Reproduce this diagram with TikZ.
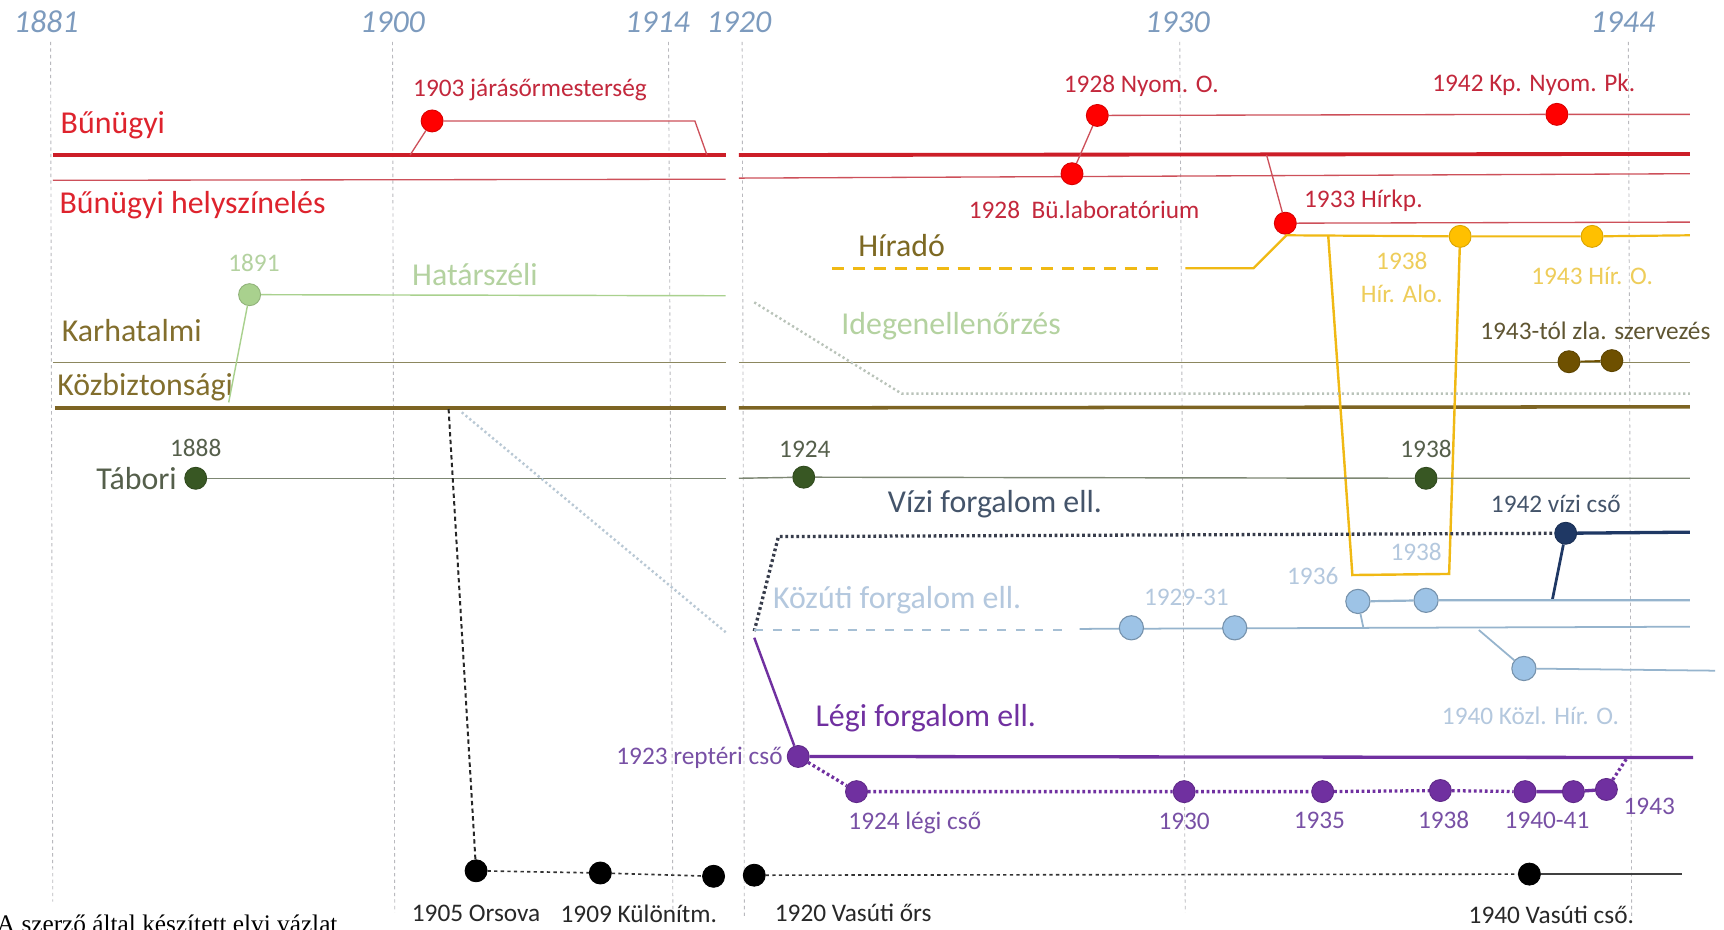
\documentclass[tikz,border=0pt]{standalone}
\usepackage{fontspec}
\setmainfont{Carlito}
\newfontfamily\capfont{Liberation Serif}
\definecolor{yearc}{RGB}{125,155,190}
\definecolor{gridc}{RGB}{185,185,190}
\definecolor{redthick}{RGB}{204,30,40}
\definecolor{redthin}{RGB}{205,80,90}
\definecolor{redtext}{RGB}{195,40,60}
\definecolor{redbig}{RGB}{222,35,45}
\definecolor{reddot}{RGB}{255,0,0}
\definecolor{goldline}{RGB}{240,185,20}
\definecolor{golddot}{RGB}{255,192,0}
\definecolor{goldtext}{RGB}{238,205,90}
\definecolor{hirtext}{RGB}{125,105,35}
\definecolor{lgline}{RGB}{169,209,142}
\definecolor{lgtext}{RGB}{180,210,160}
\definecolor{idegen}{RGB}{185,195,185}
\definecolor{oltext}{RGB}{130,110,45}
\definecolor{olthin}{RGB}{140,135,95}
\definecolor{olthick}{RGB}{125,100,35}
\definecolor{browndot}{RGB}{110,80,0}
\definecolor{zlatext}{RGB}{95,85,50}
\definecolor{dgdot}{RGB}{56,87,35}
\definecolor{dgline}{RGB}{125,135,115}
\definecolor{dgtext}{RGB}{85,95,75}
\definecolor{navy}{RGB}{31,56,100}
\definecolor{vizitext}{RGB}{68,84,106}
\definecolor{darkdot}{RGB}{55,60,75}
\definecolor{lbdot}{RGB}{157,195,230}
\definecolor{lbline}{RGB}{150,180,205}
\definecolor{lbtext}{RGB}{180,200,222}
\definecolor{lbdiag}{RGB}{185,200,212}
\definecolor{purp}{RGB}{112,48,160}
\definecolor{purptext}{RGB}{120,80,165}
\definecolor{blktext}{RGB}{40,40,40}
\tikzset{
  lab/.style={font=\fontsize{23}{25}\selectfont, inner sep=0pt},
  big/.style={font=\fontsize{29}{31}\selectfont, inner sep=0pt},
  yr/.style={font=\fontsize{29}{31}\selectfont\itshape, text=yearc, inner sep=0pt},
  ball/.style={circle, inner sep=0pt, minimum size=20pt, fill=#1, draw=#1!85!black, line width=0.8pt},
  lball/.style={circle, inner sep=0pt, minimum size=22pt, fill=lbdot, draw=lbdot!75!black, line width=1pt},
  vgrid/.style={draw=gridc, dash pattern=on 3pt off 3pt, line width=0.8pt},
  dotline/.style={dash pattern=on 2.5pt off 2.5pt, line width=3pt},
}
\begin{document}
\begin{tikzpicture}[x=1pt,y=-1pt]
\useasboundingbox (0,0) rectangle (1568,845);
\fill[white] (0,0) rectangle (1568,845);

% ---------- year labels and gridlines ----------
\node[yr] (y1881) at (42,20) {1881};
\node[yr] (y1900) at (357,20) {1900};
\node[yr] (y1914) at (598,20) {1914};
\node[yr] (y1920) at (672,20) {1920};
\node[yr] (y1930) at (1071,20) {1930};
\node[yr] (y1944) at (1476,20) {1944};
\coordinate (g1a) at (46,38);   \coordinate (g1b) at (48,820);
\coordinate (g2a) at (357,38);  \coordinate (g2b) at (359,830);
\coordinate (g3a) at (608,38);  \coordinate (g3b) at (612,830);
\coordinate (g4a) at (675,38);  \coordinate (g4b) at (677,835);
\coordinate (g5a) at (1073,38); \coordinate (g5b) at (1078,830);
\coordinate (g6a) at (1481,38); \coordinate (g6b) at (1484,835);
\foreach \i in {1,...,6} {\draw[vgrid] (g\i a) -- (g\i b);}

% ---------- lane lines ----------
\coordinate (rA) at (48,141);  \coordinate (rB) at (660,141);
\coordinate (rC) at (672,141); \coordinate (rD) at (1537,140);
\draw[redthick, line width=3.5pt] (rA) -- (rB);
\draw[redthick, line width=3.5pt] (rC) -- (rD);
\coordinate (hA) at (48,164);  \coordinate (hB) at (660,163);
\coordinate (hC) at (672,162); \coordinate (hD) at (1537,158);
\draw[redthin, line width=1.2pt] (hA) -- (hB);
\draw[redthin, line width=1.2pt] (hC) -- (hD);
\coordinate (kA) at (48,330);  \coordinate (kB) at (660,330);
\coordinate (kC) at (672,330); \coordinate (kD) at (1537,330);
\draw[olthin, line width=1.2pt] (kA) -- (kB);
\draw[olthin, line width=1.2pt] (kC) -- (kD);
\coordinate (zA) at (50,371);  \coordinate (zB) at (660,371);
\coordinate (zC) at (672,371); \coordinate (zD) at (1537,370);
\draw[olthick, line width=3.2pt] (zA) -- (zB);
\draw[olthick, line width=3.2pt] (zC) -- (zD);

% ---------- labels of lanes ----------
\node[big, text=redbig, anchor=west] (lbun) at (55,114) {Bűnügyi};
\node[big, text=redbig, anchor=west] (lhely) at (54,187) {Bűnügyi helyszínelés};
\node[big, text=oltext, anchor=west] (lkar) at (56,301) {Karhatalmi};
\node[big, text=oltext, anchor=west] (lkoz) at (52,352) {Közbiztonsági};
\node[big, text=dgtext, anchor=east] (ltab) at (161,435) {Tábori};
\node[big, text=hirtext] (lhir) at (820,223) {Híradó};
\node[big, text=lgtext] (lhat) at (432,250) {Határszéli};
\node[big, text=lgtext] (lide) at (865,297) {Idegenellenőrzés};
\node[big, text=vizitext] (lviz) at (905,459) {Vízi forgalom ell.};
\node[big, text=lbtext] (lkozu) at (816,546) {Közúti forgalom ell.};
\node[big, text=purp] (llegi) at (842,653) {Légi forgalom ell.};

% ---------- red events ----------
\node[ball=reddot] (n1903) at (393,110) {};
\coordinate (b03a) at (373,141); \coordinate (b03b) at (632,110); \coordinate (b03c) at (643,141);
\draw[redthin, line width=1.2pt] (b03a) -- (n1903) -- (b03b) -- (b03c);
\node[lab, text=redtext] (t1903) at (482,82) {1903 járásőrmesterség};

\node[ball=reddot] (n1928n) at (998,105) {};
\node[ball=reddot] (n1942) at (1416,104) {};
\coordinate (nyE) at (1537,104);
\draw[redthin, line width=1.2pt] (n1928n) -- (n1942) -- (nyE);
\node[ball=reddot] (n1928b) at (975,158) {};
\draw[redthin, line width=1.2pt] (n1928b) -- (n1928n);
\node[lab, text=redtext] (t1928n) at (1038,78) {1928 Nyom. O.};
\node[lab, text=redtext] (t1942) at (1395,77) {1942 Kp. Nyom. Pk.};
\node[lab, text=redtext] (t1928b) at (986,191) {1928\ \ Bü.laboratórium};

\node[ball=reddot] (n1933) at (1169,203) {};
\coordinate (r33) at (1152,141); \coordinate (hkE) at (1537,202);
\draw[redthin, line width=1.2pt] (r33) -- (n1933) -- (hkE);
\node[lab, text=redtext] (t1933) at (1240,183) {1933 Hírkp.};

% ---------- Híradó (gold) ----------
\coordinate (gd1) at (757,244); \coordinate (gd2) at (1060,244);
\draw[goldline, line width=3pt, dash pattern=on 11pt off 8pt] (gd1) -- (gd2);
\coordinate (gs1) at (1078,244); \coordinate (gs2) at (1140,244); \coordinate (gs3) at (1170,214);
\node[ball=golddot] (n1938h) at (1328,215) {};
\node[ball=golddot] (n1943h) at (1448,215) {};
\coordinate (gsE) at (1537,214);
\draw[goldline, line width=2pt] (gs1) -- (gs2) -- (gs3) -- (n1938h) -- (n1943h) -- (gsE);
\coordinate (tr1) at (1208,214); \coordinate (tr2) at (1230,523); \coordinate (tr3) at (1318,522);
\draw[goldline, line width=2.2pt] (tr1) -- (tr2) -- (tr3) -- (n1938h);
\node[lab, text=goldtext] (t1938h) at (1275,237) {1938};
\node[lab, text=goldtext] (t1938h2) at (1275,267) {Hír. Alo.};
\node[lab, text=goldtext] (t1943h) at (1448,251) {1943 Hír. O.};

% ---------- Határszéli (light green) ----------
\node[ball=lgline] (n1891) at (227,268) {};
\coordinate (hsE) at (660,269); \coordinate (hsD) at (208,366);
\draw[lgline, line width=1.3pt] (n1891) -- (hsE);
\draw[lgline, line width=1.3pt] (n1891) -- (hsD);
\node[lab, text=lgtext] (t1891) at (231,239) {1891};
\coordinate (id1) at (686,275); \coordinate (id2) at (820,358); \coordinate (id3) at (1537,358);
\draw[idegen, line width=2.2pt, dash pattern=on 2pt off 2.5pt] (id1) -- (id2) -- (id3);

% ---------- 1943-tól zla ----------
\node[ball=browndot] (nz1) at (1427,329) {};
\node[ball=browndot] (nz2) at (1466,328) {};
\draw[browndot, line width=1.5pt] (nz1) -- (nz2);
\node[lab, text=zlatext] (tzla) at (1451,301) {1943-tól zla. szervezés};

% ---------- Tábori (dark green) ----------
\node[ball=dgdot] (n1888) at (178,435) {};
\node[ball=dgdot] (n1924t) at (731,434) {};
\node[ball=dgdot] (n1938t) at (1297,435) {};
\coordinate (tbB) at (660,435); \coordinate (tbC) at (672,435); \coordinate (tbE) at (1537,435);
\draw[dgline, line width=1.3pt] (n1888) -- (tbB);
\draw[dgline, line width=1.3pt] (tbC) -- (n1924t) -- (n1938t) -- (tbE);
\node[lab, text=dgtext] (t1888) at (178,407) {1888};
\node[lab, text=dgtext] (t1924t) at (732,409) {1924};
\node[lab, text=dgtext] (t1938t) at (1297,408) {1938};

% ---------- light blue diagonal ----------
\coordinate (lbd1) at (420,375); \coordinate (lbd2) at (660,575);
\draw[lbdiag, line width=2.2pt, dash pattern=on 2pt off 2.5pt] (lbd1) -- (lbd2);

% ---------- Vízi (navy) ----------
\coordinate (vz0) at (686,574); \coordinate (vz1) at (708,488);
\node[ball=navy] (n1942v) at (1424,485) {};
\coordinate (vzE) at (1537,484); \coordinate (vzD) at (1412,545);
\draw[darkdot, dotline] (vz0) -- (vz1) -- (n1942v);
\draw[navy, line width=3pt] (n1942v) -- (vzE);
\draw[navy, line width=2.5pt] (n1942v) -- (vzD);
\node[lab, text=vizitext] (t1942v) at (1415,458) {1942 vízi cső};

% ---------- Közúti (light blue) ----------
\coordinate (kz0) at (686,573); \coordinate (kz1) at (970,573);
\draw[lbline!85!white, line width=1.8pt, dash pattern=on 8pt off 9pt] (kz0) -- (kz1);
\coordinate (kz2) at (982,572); \coordinate (kzE) at (1537,570);
\draw[lbline, line width=1.6pt] (kz2) -- (kzE);
\node[lball] (n1929) at (1029,571) {};
\node[lball] (n1931) at (1123,571) {};
\node[lball] (n1936) at (1235,547) {};
\node[lball] (n1938k) at (1297,546) {};
\coordinate (k36d) at (1240,571); \coordinate (k38E) at (1537,546);
\draw[lbline, line width=2pt] (n1936) -- (n1938k) -- (k38E);
\draw[lbline, line width=1.6pt] (n1936) -- (k36d);
\coordinate (k40a) at (1345,573);
\node[lball] (n1940k) at (1386,608) {};
\coordinate (k40E) at (1560,610);
\draw[lbline, line width=1.6pt] (k40a) -- (n1940k) -- (k40E);
\node[lab, text=lbtext] (t1929) at (1079,543) {1929-31};
\node[lab, text=lbtext] (t1936) at (1194,524) {1936};
\node[lab, text=lbtext] (t1938k) at (1288,502) {1938};
\node[lab, text=lbtext] (t1940k) at (1392,651) {1940 Közl. Hír. O.};

% ---------- Légi (purple) ----------
\coordinate (lg0) at (686,580);
\node[ball=purp] (n1923) at (726,688) {};
\coordinate (lgE) at (1540,689);
\draw[purp, line width=2.2pt] (lg0) -- (n1923);
\draw[purp, line width=3pt] (n1923) -- (lgE);
\node[ball=purp] (p1924) at (779,720) {};
\node[ball=purp] (p1930) at (1077,720) {};
\node[ball=purp] (p1935) at (1203,720) {};
\node[ball=purp] (p1938) at (1310,719) {};
\node[ball=purp] (p1940) at (1387,720) {};
\node[ball=purp] (p1941) at (1431,720) {};
\node[ball=purp] (p1943) at (1461,718) {};
\coordinate (p43u) at (1480,689);
\draw[purp, dotline] (n1923) -- (p1924) -- (p1930) -- (p1935) -- (p1938) -- (p1940);
\draw[purp, line width=3pt] (p1940) -- (p1941) -- (p1943);
\draw[purp, dotline] (p1943) -- (p43u);
\node[lab, text=purptext, anchor=east] (t1923) at (712,689) {1923 reptéri cső};
\node[lab, text=purptext] (t1924l) at (832,748) {1924 légi cső};
\node[lab, text=purptext] (t1930l) at (1077,747) {1930};
\node[lab, text=purptext] (t1935l) at (1200,746) {1935};
\node[lab, text=purptext] (t1938l) at (1313,746) {1938};
\node[lab, text=purptext] (t1940l) at (1407,746) {1940-41};
\node[lab, text=purptext] (t1943l) at (1500,733) {1943};

% ---------- Vasúti (black) ----------
\coordinate (vs0) at (408,372);
\node[ball=black] (n1905) at (433,792) {};
\node[ball=black] (n1909) at (546,794) {};
\node[ball=black] (n1914v) at (649,797) {};
\node[ball=black] (n1920v) at (686,796) {};
\node[ball=black] (n1940v) at (1391,795) {};
\coordinate (vsE) at (1530,795);
\draw[black!85, line width=1.8pt, dash pattern=on 4pt off 3pt] (vs0) -- (n1905);
\draw[black!80, line width=1.5pt, dash pattern=on 3pt off 3pt] (n1905) -- (n1909) -- (n1914v);
\draw[black!80, line width=1.5pt, dash pattern=on 3pt off 3pt] (n1920v) -- (n1940v);
\draw[black!75, line width=1.3pt] (n1940v) -- (vsE);
\node[lab, text=blktext] (t1905) at (433,831) {1905 Orsova};
\node[lab, text=blktext] (t1909) at (581,831) {1909 Különítm.};
\node[lab, text=blktext] (t1920v) at (776,830) {1920 Vasúti őrs};
\node[lab, text=blktext] (t1940v) at (1411,832) {1940 Vasúti cső.};

% ---------- caption (cut at bottom edge, as in the reference) ----------
\node[font=\capfont\fontsize{23}{25}\selectfont, anchor=base west, inner sep=0pt] (cap) at (-3,848) {A szerző által készített elvi vázlat};
\end{tikzpicture}
\end{document}
